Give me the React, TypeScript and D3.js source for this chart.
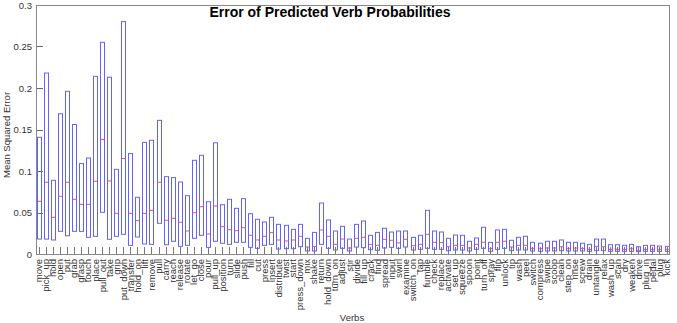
import React from "react";
import * as d3 from "d3";

const verbs = ["move","pick_up","hold","open","put","grab","grasp","touch","place","pull_out","take","grip","put_down","transfer","hold_on","lift","remove","pull","carry","reach","release","rotate","let_go","close","pour","pull_up","position","turn","slide","push","fill","cut","press","insert","distribute","twist","start","press_down","mix","shake","return","hold_down","turn_on","adjust","stir","divide","fill_up","crack","find","spread","input","swirl","examine","switch_on","tap","fumble","check","replace","activate","set_up","squeeze","spoon","point","turn_off","spray","flip","unlock","tip","wash","peel","switch","compress","swipe","scoop","clean","step_on","rinse","screw","drain","untangle","relax","wash_up","scan","dry","weaken","drive","plug_in","pedal","plug","kick"];

const q3 = [0.1406,0.218,0.0888,0.169,0.196,0.156,0.109,0.1157,0.214,0.255,0.213,0.102,0.280,0.121,0.0683,0.1345,0.137,0.161,0.0932,0.092,0.0867,0.0703,0.1129,0.1189,0.063,0.134,0.0594,0.0659,0.055,0.0667,0.0486,0.0418,0.0386,0.0442,0.0357,0.0345,0.0297,0.0357,0.0189,0.026,0.0614,0.041,0.0277,0.0333,0.018,0.0357,0.0398,0.0225,0.026,0.031,0.0265,0.0277,0.0277,0.0201,0.0225,0.0526,0.0277,0.0265,0.0189,0.0229,0.0225,0.0153,0.0193,0.0321,0.0141,0.0289,0.0297,0.0165,0.0201,0.0213,0.0141,0.0129,0.0153,0.0153,0.0169,0.0141,0.0141,0.0129,0.0116,0.018,0.018,0.0112,0.0112,0.0104,0.0116,0.0088,0.0104,0.0104,0.0096,0.0092];

const medians = [0.0635,0.0864,0.0442,0.0695,0.0864,0.0659,0.0598,0.0598,0.0876,0.138,0.088,0.049,0.115,0.049,0.0402,0.049,0.0526,0.0864,0.0406,0.043,0.0382,0.0277,0.0498,0.057,0.0241,0.0578,0.0329,0.0293,0.0281,0.0317,0.0225,0.0169,0.0213,0.0257,0.0169,0.0157,0.0169,0.0213,0.0084,0.0092,0.0289,0.0213,0.0116,0.018,0.0072,0.0189,0.0201,0.0116,0.0104,0.0177,0.0165,0.0133,0.0177,0.01,0.0116,0.0237,0.0141,0.0137,0.0088,0.0104,0.0104,0.0072,0.0116,0.0141,0.0064,0.0141,0.0153,0.0084,0.0104,0.0104,0.0068,0.0064,0.0072,0.0072,0.0088,0.0068,0.0072,0.0068,0.0056,0.0092,0.0088,0.0056,0.0056,0.0056,0.0064,0.0044,0.0056,0.0056,0.0056,0.0056];

const q1 = [0.018,0.018,0.0169,0.0273,0.022,0.0273,0.0273,0.0201,0.0213,0.0502,0.0177,0.0213,0.0237,0.0104,0.0205,0.012,0.0116,0.037,0.0112,0.0153,0.0092,0.0104,0.0189,0.0225,0.008,0.0153,0.0129,0.0116,0.0141,0.0141,0.008,0.0068,0.0104,0.0116,0.006,0.0064,0.0064,0.0088,0.0036,0.0036,0.0116,0.0068,0.0048,0.0068,0.0036,0.0084,0.0076,0.0052,0.0044,0.0072,0.008,0.0068,0.0084,0.0048,0.0056,0.0068,0.0056,0.0056,0.004,0.0048,0.0048,0.0036,0.0056,0.0068,0.0032,0.0056,0.0068,0.004,0.0048,0.0048,0.0036,0.0032,0.0036,0.0036,0.004,0.0036,0.0036,0.0036,0.0032,0.004,0.004,0.0032,0.0032,0.0032,0.0032,0.0028,0.0032,0.0032,0.0032,0.0032];

const yTicks = [0, 0.05, 0.1, 0.15, 0.2, 0.25, 0.3];
const yTickLabels = ["0", "0.05", "0.1", "0.15", "0.2", "0.25", "0.3"];

const W = 677, H = 323;
const L = 36, R = 669, T = 5, B = 254;
const FONT = "'Liberation Sans', Arial, Helvetica, sans-serif";

export default function App() {
  const x = d3.scaleLinear().domain([0, verbs.length - 1]).range([38.6, 666.5]);
  const y = d3.scaleLinear().domain([0, 0.3]).range([B, T]);
  const bw = 4;
  return (
    <svg width={W} height={H} style={{ position: "absolute", left: 0, top: 0, background: "#fff" }} fontFamily={FONT}>
      <rect x={0} y={0} width={W} height={H} fill="#fff" />
      {verbs.map((v, i) => (
        <line key={"xt" + v} x1={Math.round(x(i)) + 0.5} x2={Math.round(x(i)) + 0.5} y1={B} y2={B - 7} stroke="#777" strokeWidth={1} />
      ))}
      {yTicks.map((t) => (
        <line key={"yt" + t} x1={L} x2={L + 7} y1={Math.round(y(t)) + 0.5} y2={Math.round(y(t)) + 0.5} stroke="#666" strokeWidth={1} />
      ))}
      {verbs.map((v, i) => {
        const cx = Math.round(x(i)) + 0.5;
        const top = y(q3[i]);
        const bot = y(q1[i]);
        return (
          <g key={"b" + v}>
            <rect x={cx - bw / 2} y={top} width={bw} height={Math.max(bot - top, 1)} fill="none" stroke="#6262ff" strokeWidth={1} />
            <line x1={cx - bw / 2 + 0.5} x2={cx + bw / 2 - 0.5} y1={y(medians[i])} y2={y(medians[i])} stroke="#ff4a4a" strokeWidth={1} />
          </g>
        );
      })}
      <rect x={L + 0.5} y={T + 0.5} width={R - L} height={B - T} fill="none" stroke="#888" strokeWidth={1} />
      {yTicks.map((t, i) => (
        <text key={"yl" + t} x={32} y={y(t)} textAnchor="end" dominantBaseline="central" fontSize={9.5} fill="#333">{yTickLabels[i]}</text>
      ))}
      {verbs.map((v, i) => (
        <text key={"xl" + v} transform={`translate(${x(i)},259) rotate(-90)`} textAnchor="end" dominantBaseline="central" fontSize={9.5} fill="#333">{v}</text>
      ))}
      <text x={330} y={16.7} textAnchor="middle" fontSize={14} fontWeight="bold" fill="#000">Error of Predicted Verb Probabilities</text>
      <text transform="translate(10,135) rotate(-90)" textAnchor="middle" fontSize={9.5} fill="#333">Mean Squared Error</text>
      <text x={352} y={320.5} textAnchor="middle" fontSize={9.5} fill="#333">Verbs</text>
    </svg>
  );
}
